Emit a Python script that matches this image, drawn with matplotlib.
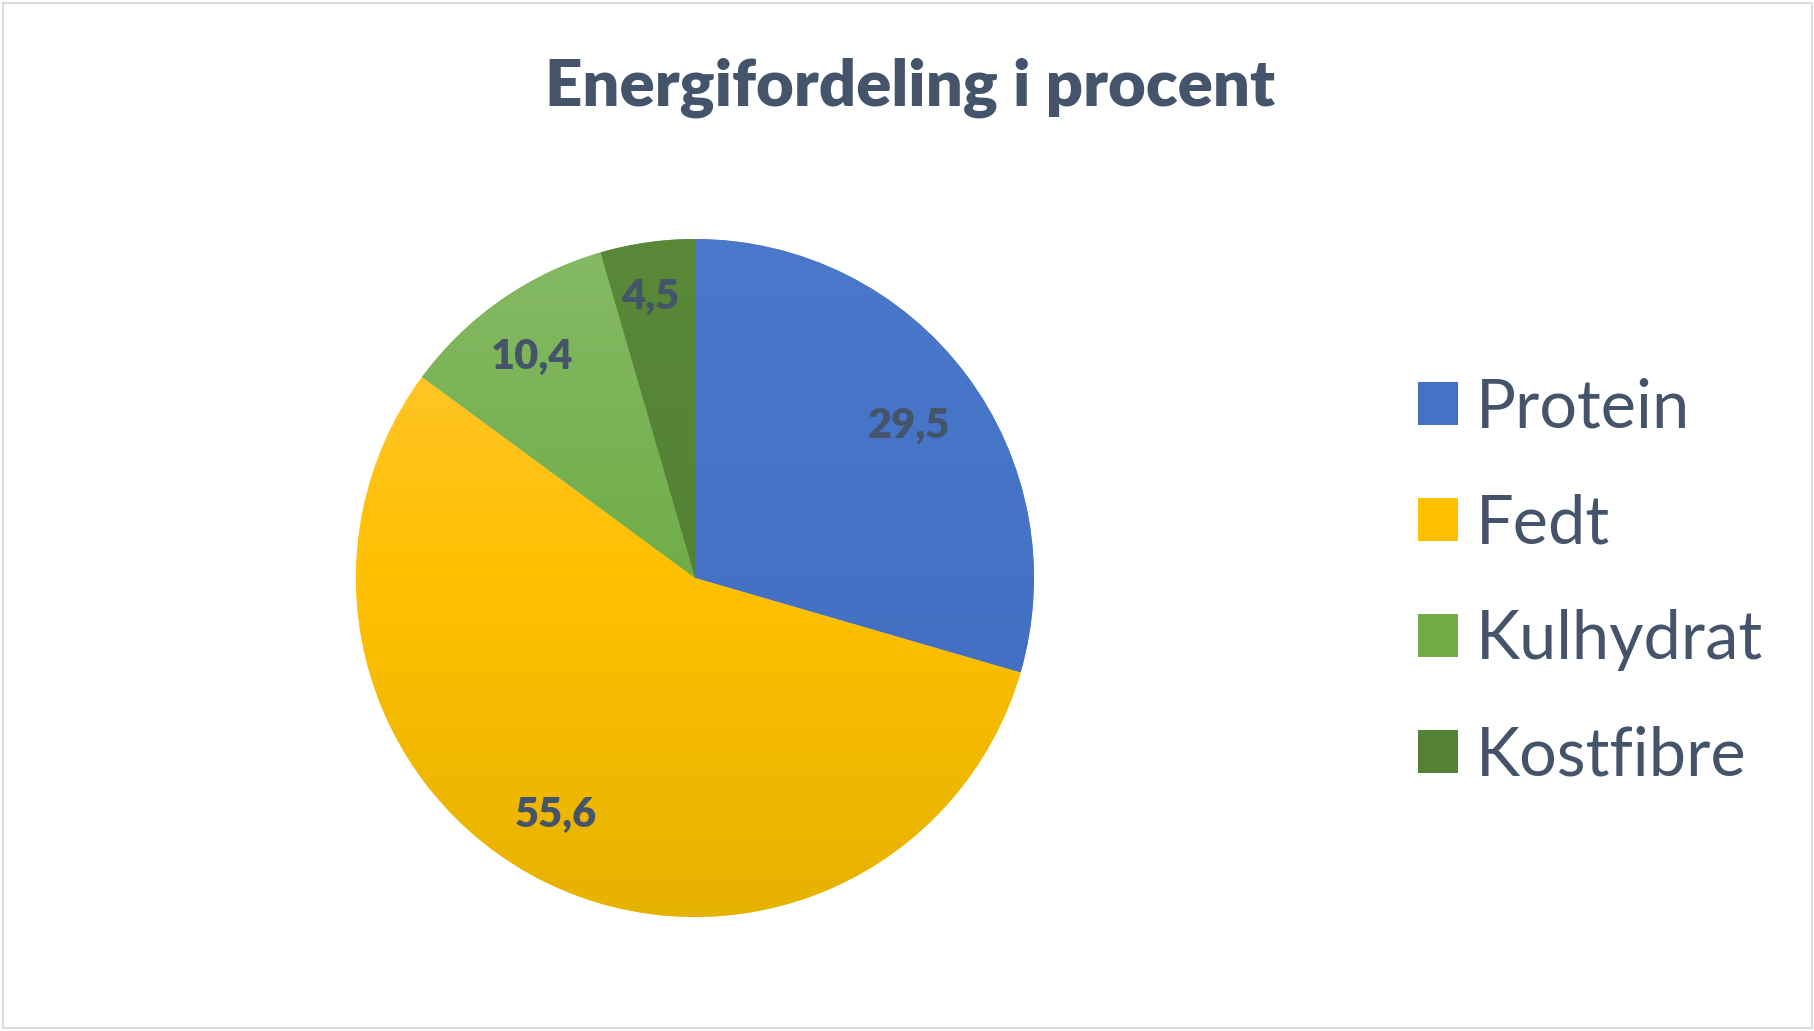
import matplotlib
matplotlib.use("Agg")
import matplotlib.pyplot as plt
import numpy as np
from matplotlib.colors import LinearSegmentedColormap
from matplotlib.patches import Rectangle, Patch

categories = ["Protein", "Fedt", "Kulhydrat", "Kostfibre"]
values = [29.5, 55.6, 10.4, 4.5]
value_labels = ["29,5", "55,6", "10,4", "4,5"]
title = "Energifordeling i procent"

# gradient colours (top, middle, bottom) per slice
grad_colors = [
    ["#4A78CB", "#4472C4", "#3F6BBC"],
    ["#FFC83F", "#FFC000", "#E6B200"],
    ["#86BA66", "#70AD47", "#62A236"],
    ["#588838", "#548235", "#507C32"],
]
base_colors = ["#4472C4", "#FFC000", "#70AD47", "#548235"]
text_color = "#44546A"

W, H = 1815, 1031
fig = plt.figure(figsize=(W / 100, H / 100), dpi=100)
ax = fig.add_axes([0, 0, 1, 1])

cx, cy, r = 695, H - 578, 339
wedges, _ = ax.pie(values, startangle=90, counterclock=False, colors=base_colors,
                   center=(cx, cy), radius=r, frame=True,
                   wedgeprops=dict(linewidth=0.6, edgecolor=(1, 1, 1, 0.35)))
ax.set_xlim(0, W)
ax.set_ylim(0, H)
ax.set_aspect("equal")
ax.axis("off")

grad = np.linspace(0, 1, 256).reshape(-1, 1)
for w, gc in zip(wedges, grad_colors):
    cmap = LinearSegmentedColormap.from_list("g", [gc[0], gc[1], gc[2]])
    im = ax.imshow(grad, cmap=cmap, extent=[cx - r, cx + r, cy - r, cy + r],
                   origin="upper", aspect="auto", zorder=w.get_zorder() + 0.1)
    im.set_clip_path(w)

label_dist = [0.78, 0.80, 0.82, 0.85]
label_shift = [-0.8, -4.6, 1.0, 0.8]  # degrees
for w, lab, d, s in zip(wedges, value_labels, label_dist, label_shift):
    ang = np.deg2rad((w.theta1 + w.theta2) / 2 + s)
    ax.text(cx + d * r * np.cos(ang), cy + d * r * np.sin(ang) - 4, lab,
            ha="center", va="center", fontsize=30, fontweight="heavy",
            family="Lato", color=text_color, zorder=5)

fig.text(910 / W, 1 - 88 / H, title, ha="center", va="center",
         fontsize=47, fontweight="heavy", family="Lato", color=text_color)

handles = [Patch(facecolor=c, edgecolor="none") for c in base_colors]
leg = ax.legend(handles, categories, loc="center left",
                bbox_to_anchor=(1391 / W, 1 - 582 / H), frameon=False,
                prop=dict(family="Lato", size=48), labelcolor=text_color,
                handlelength=0.6, handleheight=0.6, handletextpad=0.27,
                labelspacing=0.81, borderaxespad=0)

fig.patches.append(Rectangle((3 / W, 3 / H), 1 - 6 / W, 1 - 6 / H,
                             transform=fig.transFigure, fill=False,
                             edgecolor="#D9DDE3", linewidth=1.5))

fig.savefig("out.png", dpi=100, facecolor="white")
